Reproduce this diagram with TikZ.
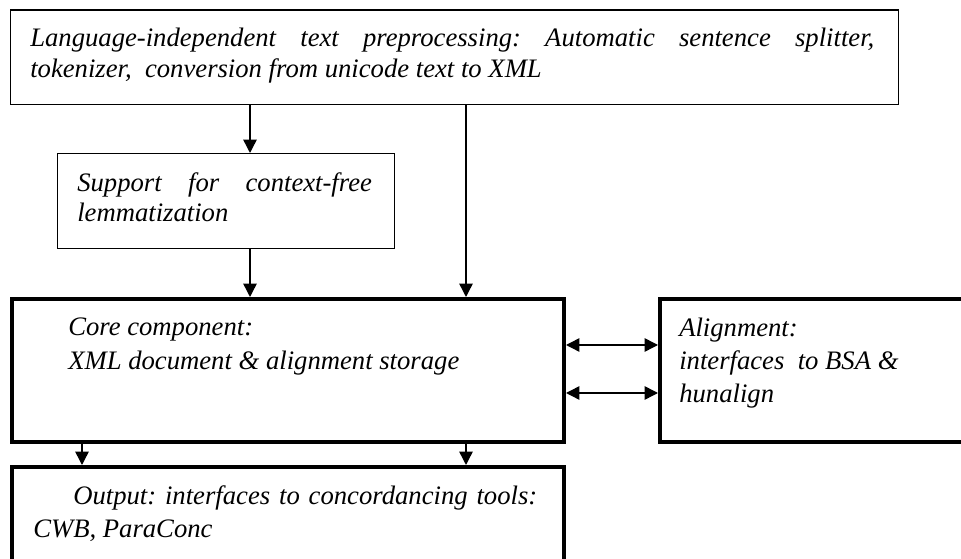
\documentclass[tikz,border=0pt]{standalone}
\usepackage{fontspec}
\setmainfont{Liberation Serif}
\usetikzlibrary{arrows.meta}
\frenchspacing
\tikzset{
  thinbox/.style={draw, line width=1.1pt, inner sep=0pt, anchor=north west},
  thickbox/.style={draw, line width=3pt, inner sep=0pt, anchor=north west},
  txt/.style={anchor=base west, inner sep=0pt, font=\fontsize{20}{25}\selectfont\itshape},
  arr/.style={line width=1.1pt, -{Triangle[length=10pt,width=10pt]}},
  darr/.style={line width=1.1pt, {Triangle[length=10pt,width=10pt]}-{Triangle[length=10pt,width=10pt]}}
}
\begin{document}
\begin{tikzpicture}[x=0.75pt,y=-0.75pt]
\useasboundingbox (0,0) rectangle (961,559);
\clip (0,0) rectangle (961,559);
% boxes
\node[thinbox, minimum width=888*0.75pt, minimum height=94.5*0.75pt] (top) at (10,9.5) {};
\node[thinbox, minimum width=337*0.75pt, minimum height=95*0.75pt] (sup) at (57,153) {};
\node[thickbox, minimum width=552*0.75pt, minimum height=143*0.75pt] (core) at (10,297) {};
\node[thickbox, minimum width=360*0.75pt, minimum height=143*0.75pt] (aln) at (658,297) {};
\node[thickbox, minimum width=552*0.75pt, minimum height=140*0.75pt] (out) at (10,465) {};
% texts
\node[txt] (t1) at (30,47) {\makebox[633pt][s]{Language-independent text preprocessing: Automatic sentence splitter,}};
\node[txt] (t2) at (30,78) {tokenizer,\ \ conversion from unicode text to XML};
\node[txt] (s1) at (77,192) {\makebox[221pt][s]{Support for context-free}};
\node[txt] (s2) at (77,222) {lemmatization};
\node[txt] (c1) at (68,336) {Core component:};
\node[txt] (c2) at (68,370) {XML document \& alignment storage};
\node[txt] (a1) at (679,337) {Alignment:};
\node[txt] (a2) at (679,370) {interfaces\ \ to BSA \&};
\node[txt] (a3) at (679,403) {hunalign};
\node[txt] (o1) at (73,505) {\makebox[348pt][s]{Output: interfaces to concordancing tools:}};
\node[txt] (o2) at (33,538) {CWB, ParaConc};
% arrow columns
\coordinate (xa) at (250,0);
\coordinate (xb) at (466,0);
\coordinate (xc) at (82,0);
\coordinate (ya) at (0,345);
\coordinate (yb) at (0,393);
% connectors
\draw[arr] (top.south -| xa) -- (sup.north -| xa);
\draw[arr] (sup.south -| xa) -- (core.north -| xa);
\draw[arr] (top.south -| xb) -- (core.north -| xb);
\draw[arr] (core.south -| xc) -- (out.north -| xc);
\draw[arr] (core.south -| xb) -- (out.north -| xb);
\draw[darr] (core.east |- ya) -- (aln.west |- ya);
\draw[darr] (core.east |- yb) -- (aln.west |- yb);
\end{tikzpicture}
\end{document}
